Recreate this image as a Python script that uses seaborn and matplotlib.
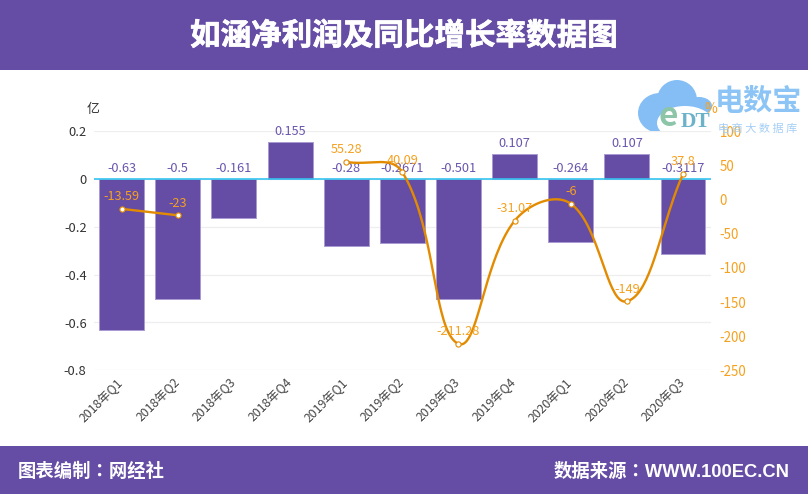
import numpy as np
import pandas as pd
import matplotlib
matplotlib.use("Agg")
import matplotlib.pyplot as plt
import matplotlib.patheffects as pe
from matplotlib.patches import Rectangle, Ellipse
from matplotlib.transforms import ScaledTranslation
import seaborn as sns

categories = ["2018年Q1", "2018年Q2", "2018年Q3", "2018年Q4", "2019年Q1", "2019年Q2",
              "2019年Q3", "2019年Q4", "2020年Q1", "2020年Q2", "2020年Q3"]
profit = [-0.63, -0.5, -0.161, 0.155, -0.28, -0.2671, -0.501, 0.107, -0.264, 0.107, -0.3117]
growth = [-13.59, -23, None, None, 55.28, 40.09, -211.28, -31.07, -6, -149, 37.8]
left_ticks = [0.2, 0, -0.2, -0.4, -0.6, -0.8]
right_ticks = [100, 50, 0, -50, -100, -150, -200, -250]

PURPLE = "#654ca4"
LABEL_P = "#6a55ae"
ORANGE = "#f5a11f"
LINE = "#e38b00"

sns.set_theme(style="white")
plt.rcParams["font.family"] = ["Noto Sans CJK SC", "DejaVu Sans"]

W, H = 808, 494
AX_L, AX_T, AX_W, AX_H = 93.6, 131.3, 617.5, 239.0
fig = plt.figure(figsize=(W / 100, H / 100), dpi=100, facecolor="white")
ax = fig.add_axes([AX_L / W, 1 - (AX_T + AX_H) / H, AX_W / W, AX_H / H])

df = pd.DataFrame({"cat": categories, "profit": profit})
sns.barplot(data=df, x="cat", y="profit", color=PURPLE, saturation=1, width=0.8,
            edgecolor="#a99bd3", linewidth=0.7, ax=ax, zorder=2)
ax.set_xlim(-0.5, len(categories) - 0.5)
ax.set_ylim(-0.8, 0.2)
ax.set_yticks(left_ticks)
ax.set_yticklabels(["0.2", "0", "-0.2", "-0.4", "-0.6", "-0.8"], fontsize=9.3, color="#333333")
ax.set_xticks(range(len(categories)))
ax.set_xticklabels(categories, rotation=45, ha="right", rotation_mode="anchor",
                   fontsize=8.8, color="#444444")
ax.tick_params(axis="x", length=0, pad=4)
ax.tick_params(axis="y", length=0, pad=5)
shift = ScaledTranslation(-5 / 100, 0, fig.dpi_scale_trans)
for lab in ax.get_xticklabels():
    lab.set_transform(lab.get_transform() + shift)
ax.set_xlabel("")
ax.set_ylabel("")
for s in ax.spines.values():
    s.set_visible(False)
ax.set_axisbelow(True)
ax.grid(axis="y", color="#eeeeee", linewidth=0.9, zorder=0)
ax.axhline(0, color="#35c4f0", linewidth=1.2, zorder=3)

for i, v in enumerate(profit):
    ax.annotate(f"{v:g}", (i, max(v, 0)), xytext=(0, 2.8), textcoords="offset points",
                ha="center", va="bottom", fontsize=9.2, color=LABEL_P, zorder=4)

ax2 = ax.twinx()
ax2.set_ylim(-250, 100)
ax2.set_yticks(right_ticks)
ax2.set_yticklabels([str(t) for t in right_ticks], fontsize=9.6, color=ORANGE)
ax2.tick_params(axis="y", length=0, pad=6)
ax2.grid(False)
for s in ax2.spines.values():
    s.set_visible(False)

PX_X = AX_W / len(categories)
PX_Y = AX_H / 350.0


def smooth_segment(xs, ys, k=0.4, n=40):
    """Bezier smoothing of a run of points: control arms are split by pixel distance."""
    xs, ys = np.asarray(xs, float), np.asarray(ys, float)
    m = len(xs)
    dist = lambda a, b: np.hypot((xs[a] - xs[b]) * PX_X, (ys[a] - ys[b]) * PX_Y)
    before, after = [], []
    for i in range(m):
        a, b = max(i - 1, 0), min(i + 1, m - 1)
        vx, vy = xs[b] - xs[a], ys[b] - ys[a]
        d0, d1 = dist(i, a), dist(i, b)
        r0, r1 = d0 / (d0 + d1), d1 / (d0 + d1)
        before.append((xs[i] - k * vx * r0, ys[i] - k * vy * r0))
        after.append((xs[i] + k * vx * r1, ys[i] + k * vy * r1))
    px, py = [], []
    t = np.linspace(0, 1, n)
    u = 1 - t
    for i in range(m - 1):
        c1, c2 = after[i], before[i + 1]
        px.append(u**3 * xs[i] + 3 * u**2 * t * c1[0] + 3 * u * t**2 * c2[0] + t**3 * xs[i + 1])
        py.append(u**3 * ys[i] + 3 * u**2 * t * c1[1] + 3 * u * t**2 * c2[1] + t**3 * ys[i + 1])
    return np.concatenate(px), np.concatenate(py)


runs = [[0, 1], [4, 5, 6, 7, 8, 9, 10]]
for r in runs:
    sx, sy = smooth_segment(r, [growth[i] for i in r])
    ax2.plot(sx, sy, color=LINE, linewidth=1.7, zorder=5, solid_capstyle="round")

pts = pd.DataFrame({"x": range(len(growth)), "y": growth}).dropna()
sns.scatterplot(data=pts, x="x", y="y", ax=ax2, s=14, color="white", edgecolor=LINE,
                linewidth=0.8, zorder=6, legend=False)
ax2.set_xlabel("")
ax2.set_ylabel("")
for x, y in zip(pts["x"], pts["y"]):
    ax2.annotate(f"{y:g}", (x, y), xytext=(0, 4), textcoords="offset points",
                 ha="center", va="bottom", fontsize=9.2, color=ORANGE, zorder=7)

# header / footer bands
fig.add_artist(Rectangle((0, 1 - 70 / H), 1, 70 / H, transform=fig.transFigure, color=PURPLE, lw=0))
fig.add_artist(Rectangle((0, 0), 1, 48 / H, transform=fig.transFigure, color=PURPLE, lw=0))
bold = [pe.withStroke(linewidth=0.5, foreground="white")]
fig.text(403.5 / W, 1 - 36 / H, "如涵净利润及同比增长率数据图", color="white", fontsize=22,
         fontweight="bold", ha="center", va="center", path_effects=bold)
foot = ["Liberation Sans", "Noto Sans CJK TC"]
fig.text(18 / W, 1 - 472 / H, "图表编制：网经社", color="white", fontsize=13.2, family=foot,
         fontweight="bold", ha="left", va="center")
fig.text(790 / W, 1 - 472 / H, "数据来源：WWW.100EC.CN", color="white", fontsize=13.2, family=foot,
         fontweight="bold", ha="right", va="center")
fig.text(93 / W, 1 - 109 / H, "亿", color="#333333", fontsize=9.3, ha="center", va="center")

# logo watermark
LOGO = "#85bef5"
for cx, cy, w, h, col in [(660, 113, 44, 40, LOGO), (677, 100, 40, 40, LOGO),
                          (699, 106, 26, 18, LOGO), (685, 123, 56, 34, "white")]:
    fig.add_artist(Ellipse((cx / W, 1 - cy / H), w / W, h / H, transform=fig.transFigure,
                           color=col, lw=0, zorder=-1))
fig.text(668 / W, 1 - 116 / H, "e", color="#8cc5a8", fontsize=24, fontweight="bold",
         ha="center", va="center", zorder=0)
fig.text(696 / W, 1 - 122 / H, "DT", color="#6cb2c8", fontsize=15.5, family="Liberation Serif",
         fontweight="bold", ha="center", va="center", zorder=0)
fig.text(758 / W, 1 - 101 / H, "电数宝", color="#8cc4f5", fontsize=21, fontweight="bold",
         ha="center", va="center")
fig.text(758 / W, 1 - 129 / H, "电 商 大 数 据 库", color="#a5cff5", fontsize=8,
         ha="center", va="center")
fig.text(711 / W, 1 - 109 / H, "%", color=ORANGE, fontsize=10, ha="center", va="center")

fig.savefig("out.png", dpi=100)
